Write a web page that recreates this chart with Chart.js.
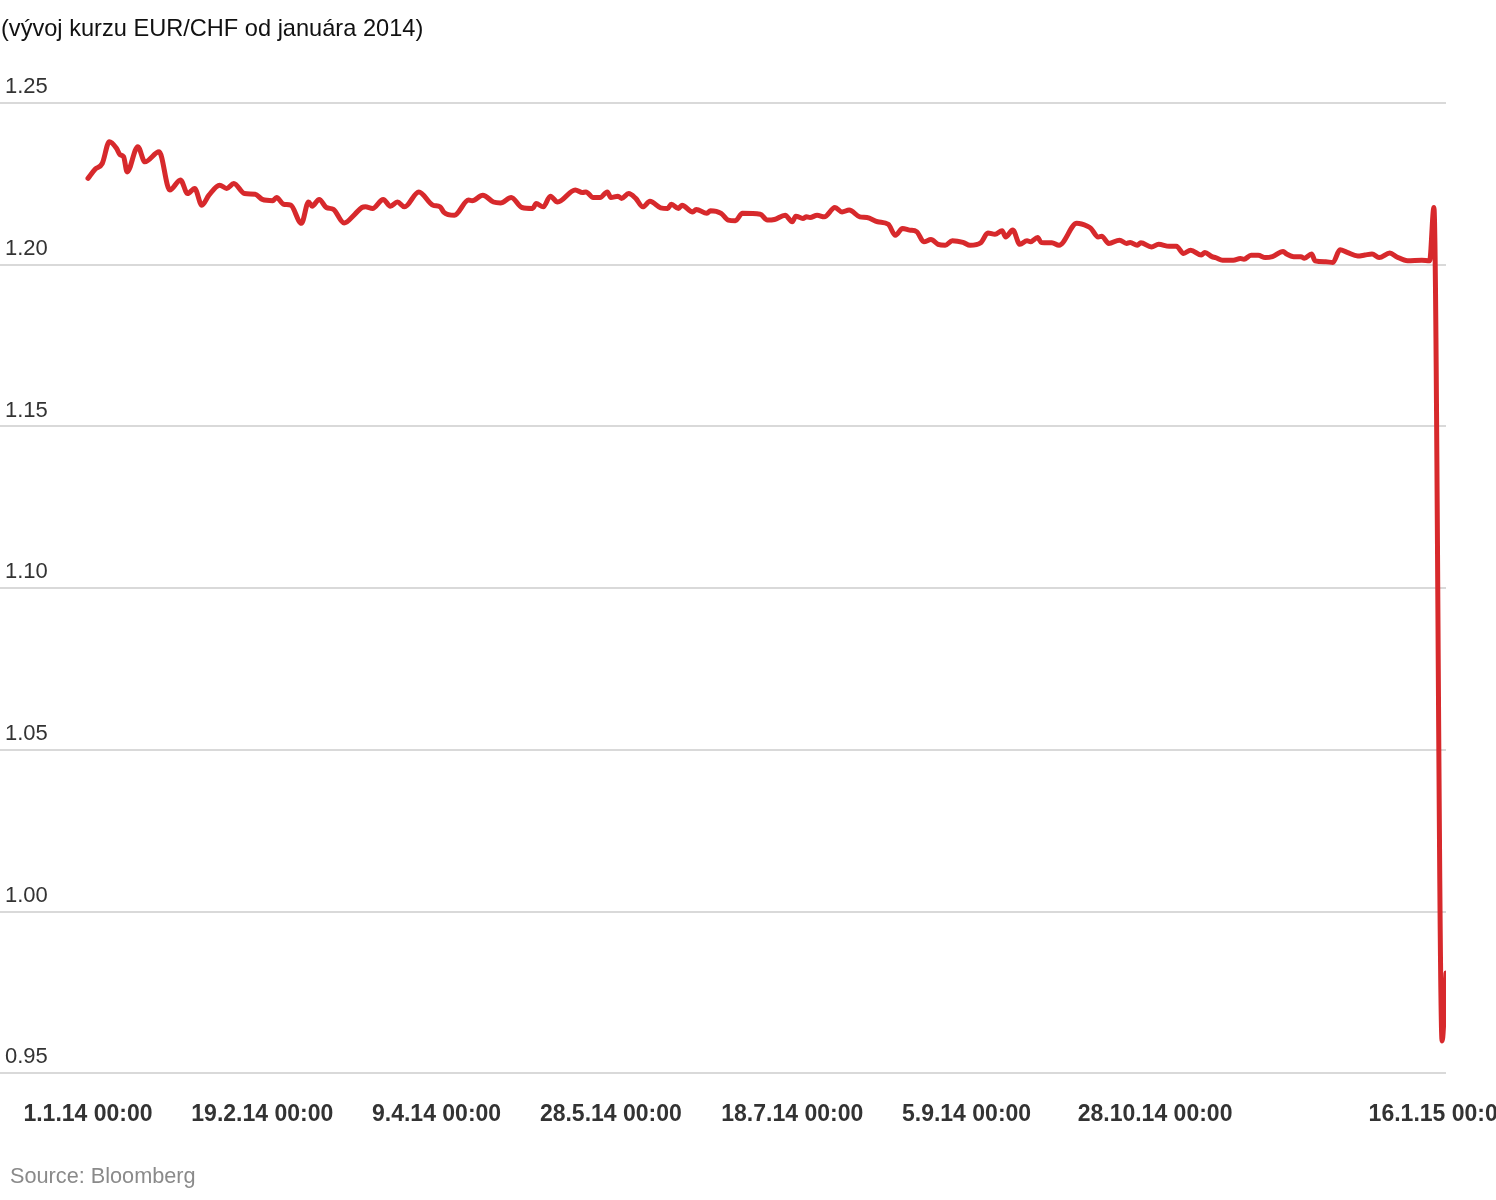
<!DOCTYPE html>
<html>
<head>
<meta charset="utf-8">
<script src="https://cdn.jsdelivr.net/npm/chart.js@4.4.1/dist/chart.umd.min.js"></script>
<style>
  html, body { margin: 0; padding: 0; background: #fff; }
  #wrap { width: 1496px; height: 1200px; position: relative; }
</style>
</head>
<body>
<div id="wrap"><canvas id="rateChart"></canvas></div>
<script>
// days since 1.1.2014 and EUR/CHF close
const days = [0, 2, 4, 6, 8, 9, 10, 11, 14, 16, 20, 23, 26, 28, 30, 32, 34, 37, 39, 41, 44, 47, 49, 52, 53, 55, 57, 60, 62, 63, 65, 67, 69, 72, 75, 77, 78, 80, 83, 85, 87, 89, 93, 97, 99, 100, 103, 107, 108, 111, 114, 116, 119, 122, 125, 126, 128, 130, 132, 137, 139, 140, 142, 144, 146, 147, 149, 150, 152, 154, 156, 158, 161, 163, 164, 166, 167, 170, 171, 174, 175, 178, 180, 182, 184, 189, 191, 193, 196, 198, 199, 201, 202, 203, 205, 207, 210, 212, 214, 217, 219, 222, 225, 227, 229, 231, 233, 235, 237, 239, 241, 243, 246, 248, 251, 253, 255, 257, 258, 260, 262, 264, 265, 267, 268, 271, 273, 278, 281, 282, 284, 285, 287, 290, 292, 293, 295, 296, 299, 301, 304, 306, 308, 310, 313, 314, 316, 317, 319, 322, 324, 325, 327, 329, 331, 333, 336, 337, 339, 341, 342, 344, 345, 348, 350, 352, 354, 357, 359, 361, 363, 366, 368, 371, 375, 377.2, 378.4, 380.7, 381.8];
const rates = [1.2267, 1.2295, 1.2313, 1.238, 1.236, 1.234, 1.2334, 1.2287, 1.2365, 1.2318, 1.2349, 1.2231, 1.2262, 1.222, 1.2236, 1.2184, 1.2215, 1.2246, 1.2236, 1.2251, 1.222, 1.2218, 1.2202, 1.2198, 1.2208, 1.2187, 1.2184, 1.2128, 1.2194, 1.2181, 1.2202, 1.2177, 1.2171, 1.2129, 1.2156, 1.2177, 1.2179, 1.2174, 1.2202, 1.2181, 1.2194, 1.2179, 1.2225, 1.2184, 1.2179, 1.2163, 1.2153, 1.22, 1.2198, 1.2215, 1.2194, 1.2191, 1.2208, 1.2177, 1.2174, 1.2189, 1.2179, 1.2212, 1.2194, 1.2231, 1.2223, 1.2225, 1.2208, 1.2208, 1.2225, 1.2208, 1.2212, 1.2205, 1.222, 1.2205, 1.2179, 1.2196, 1.2176, 1.2174, 1.2187, 1.2174, 1.2184, 1.2163, 1.2171, 1.2159, 1.2167, 1.2159, 1.2138, 1.2136, 1.2159, 1.2156, 1.2138, 1.214, 1.2153, 1.2133, 1.215, 1.2143, 1.2148, 1.2146, 1.2153, 1.2148, 1.2177, 1.2163, 1.2169, 1.2148, 1.2146, 1.2133, 1.2125, 1.2091, 1.2112, 1.2107, 1.2102, 1.2071, 1.2078, 1.2063, 1.206, 1.2074, 1.2069, 1.206, 1.2068, 1.2098, 1.2094, 1.2105, 1.2086, 1.2107, 1.2063, 1.2074, 1.2071, 1.2084, 1.2069, 1.2068, 1.206, 1.2128, 1.2119, 1.2112, 1.2086, 1.2088, 1.2066, 1.2076, 1.2066, 1.2069, 1.206, 1.2068, 1.2055, 1.2063, 1.2057, 1.2057, 1.2035, 1.2045, 1.203, 1.2038, 1.2025, 1.2022, 1.2014, 1.2014, 1.2019, 1.2017, 1.2029, 1.2029, 1.2022, 1.2025, 1.2041, 1.2033, 1.2025, 1.2025, 1.202, 1.2033, 1.2012, 1.2009, 1.2007, 1.2046, 1.2038, 1.2027, 1.203, 1.2033, 1.2022, 1.2036, 1.2024, 1.2012, 1.2014, 1.2012, 1.2177, 0.96, 0.981];

const tickDays = [0, 49, 98, 147, 198, 247, 300, 380];
const tickLabels = ['1.1.14 00:00', '19.2.14 00:00', '9.4.14 00:00', '28.5.14 00:00', '18.7.14 00:00', '5.9.14 00:00', '28.10.14 00:00', '16.1.15 00:00'];

const titleText = '(vývoj kurzu EUR/CHF od januára 2014)';
const sourceText = 'Source: Bloomberg';

const sans = "'Liberation Sans', Arial, sans-serif";

// title + source drawn as text on the canvas
const textPlugin = {
    id: 'texts',
    afterDraw(chart) {
        const ctx = chart.ctx;
        ctx.save();
        ctx.textAlign = 'left';
        ctx.textBaseline = 'alphabetic';
        ctx.fillStyle = '#111';
        ctx.font = '23.6px ' + sans;
        ctx.fillText(titleText, 1, 36);
        ctx.fillStyle = '#8a8a8a';
        ctx.font = '21.7px ' + sans;
        ctx.fillText(sourceText, 10, 1183);
        ctx.restore();
    }
};

const ctx = document.getElementById('rateChart').getContext('2d');

new Chart(ctx, {
    type: 'line',
    data: {
        datasets: [{
            data: days.map((d, i) => ({ x: d, y: rates[i] })),
            borderColor: '#d7292c',
            borderWidth: 5,
            pointRadius: 0,
            fill: false,
            cubicInterpolationMode: 'monotone',
            borderJoinStyle: 'round',
            borderCapStyle: 'round'
        }]
    },
    options: {
        responsive: true,
        maintainAspectRatio: false,
        animation: false,
        layout: { padding: { top: 103, right: 50, bottom: 45, left: 0 } },
        plugins: {
            legend: { display: false },
            tooltip: { enabled: false }
        },
        scales: {
            x: {
                type: 'linear',
                min: -24.74,
                max: 381.8,
                grid: { display: false, drawTicks: false },
                border: { display: false },
                afterBuildTicks: (scale) => {
                    scale.ticks = tickDays.map(v => ({ value: v }));
                },
                afterFit: (scale) => {
                    scale.paddingLeft = 0;
                    scale.paddingRight = 0;
                },
                ticks: {
                    autoSkip: false,
                    maxRotation: 0,
                    padding: 27,
                    color: '#333',
                    font: { family: sans, size: 23, weight: 'bold' },
                    callback: (value, index) => tickLabels[index]
                }
            },
            y: {
                min: 0.95,
                max: 1.25,
                grid: { color: '#d9d9d9', lineWidth: 2, drawTicks: false },
                border: { display: false },
                afterFit: (scale) => {
                    scale.width = 0;
                },
                ticks: {
                    stepSize: 0.05,
                    mirror: true,
                    padding: 5,
                    labelOffset: -16,
                    color: '#333',
                    font: { family: sans, size: 22 },
                    callback: (value) => value.toFixed(2)
                }
            }
        }
    },
    plugins: [textPlugin]
});
</script>
</body>
</html>
